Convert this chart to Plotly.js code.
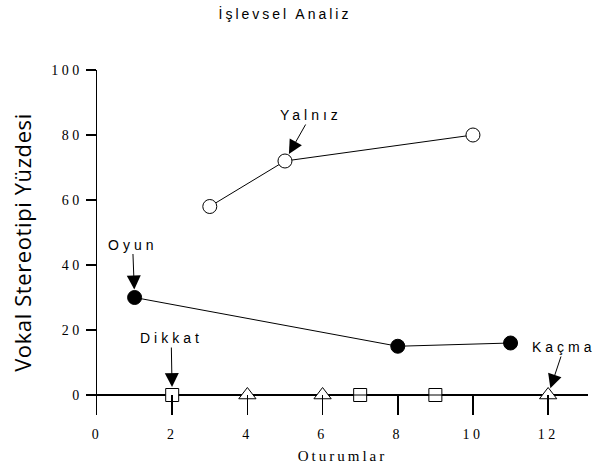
<!DOCTYPE html>
<html>
<head>
<meta charset="utf-8">
<script src="https://cdn.plot.ly/plotly-3.0.1.min.js"></script>
<style>
html,body{margin:0;padding:0;background:#fff;}
#chart{width:600px;height:472px;}
.annotation-text{letter-spacing:4px;}
.gtitle{letter-spacing:3px;}
.xtick text,.ytick text{letter-spacing:3.5px;}
.xtitle{letter-spacing:3px;}
.ytitle{letter-spacing:0.6px;}
</style>
</head>
<body>
<div id="chart"></div>
<script>
// Data
const yalnizX = [3, 5, 10];
const yalnizY = [58, 72, 80];
const oyunX = [1, 8, 11];
const oyunY = [30, 15, 16];
const dikkatX = [2, 7, 9];
const dikkatY = [0, 0, 0];
const kacmaX = [4, 6, 12];
const kacmaY = [0, 0, 0];
const xTicks = [0, 2, 4, 6, 8, 10, 12];
const yTicks = [0, 20, 40, 60, 80, 100];
const labels = {
  title: "İşlevsel Analiz",
  xTitle: "Oturumlar",
  yTitle: "Vokal Stereotipi Yüzdesi",
  yalniz: "Yalnız",
  oyun: "Oyun",
  dikkat: "Dikkat",
  kacma: "Kaçma"
};

const lineStyle = {color: '#000', width: 1};
const traces = [
  {x: dikkatX, y: dikkatY, mode: 'lines+markers', name: labels.dikkat,
   line: {color: '#000', width: 1.5},
   marker: {symbol: 'square', size: 13, color: '#fff', line: {color: '#000', width: 1}}},
  {x: kacmaX, y: kacmaY, mode: 'lines+markers', name: labels.kacma,
   line: {color: '#000', width: 1},
   marker: {symbol: 'triangle-up', size: 15, color: '#fff', line: {color: '#000', width: 1}}},
  {x: yalnizX, y: yalnizY, mode: 'lines+markers', name: labels.yalniz,
   line: lineStyle,
   marker: {symbol: 'circle', size: 14, color: '#fff', line: {color: '#000', width: 1}}},
  {x: oyunX, y: oyunY, mode: 'lines+markers', name: labels.oyun,
   line: lineStyle,
   marker: {symbol: 'circle', size: 14, color: '#000', line: {color: '#000', width: 1}}}
];

const annFont = {family: 'Liberation Sans, Arial, sans-serif', size: 14, color: '#000'};
function arrowAnn(text, x, y, ax, ay, standoff) {
  return {x: x, y: y, xref: 'x', yref: 'y', text: text, showarrow: true,
    ax: ax, ay: ay, arrowhead: 2, arrowsize: 2.8, arrowwidth: 1, arrowcolor: '#000',
    standoff: standoff, font: annFont};
}

const layout = {
  width: 600, height: 472,
  margin: {l: 97, r: 12, t: 70, b: 57},
  paper_bgcolor: '#fff', plot_bgcolor: '#fff',
  showlegend: false,
  title: {text: labels.title, x: 0.475, xanchor: 'center', xref: 'container', y: 0.97, yref: 'container', yanchor: 'middle',
    font: {family: 'Liberation Sans, Arial, sans-serif', size: 14, color: '#000'}},
  xaxis: {range: [0, 13.06], tickvals: xTicks, ticktext: xTicks.map(String),
    showgrid: false, zeroline: false, showline: false,
    ticks: 'inside', ticklen: 20, tickwidth: 1.5, tickcolor: '#000',
    ticklabelstandoff: 9,
    tickfont: {family: 'Liberation Serif, Times New Roman, serif', size: 14, color: '#000'},
    title: {text: labels.xTitle, standoff: 9, font: {family: 'Liberation Serif, Times New Roman, serif', size: 15, color: '#000'}}},
  yaxis: {range: [-6.15, 100], tickvals: yTicks, ticktext: yTicks.map(String),
    showgrid: false, zeroline: true, zerolinecolor: '#000', zerolinewidth: 1.5,
    showline: true, linecolor: '#000', linewidth: 1.5,
    ticks: 'outside', ticklen: 10, tickwidth: 1.5, tickcolor: '#000',
    tickfont: {family: 'Liberation Serif, Times New Roman, serif', size: 14, color: '#000'},
    title: {text: labels.yTitle, standoff: 13, font: {family: 'Open Sans, Noto Sans, sans-serif', size: 22, color: '#000'}}},
  annotations: [
    arrowAnn(labels.oyun, 1, 30, -2, -53, 8),
    arrowAnn(labels.yalniz, 5, 72, 26, -46, 8),
    arrowAnn(labels.dikkat, 2, 0, -1, -57, 8),
    arrowAnn(labels.kacma, 12, 0, 16, -48, 7)
  ]
};

Plotly.newPlot('chart', traces, layout, {displayModeBar: false, staticPlot: true});
</script>
</body>
</html>
